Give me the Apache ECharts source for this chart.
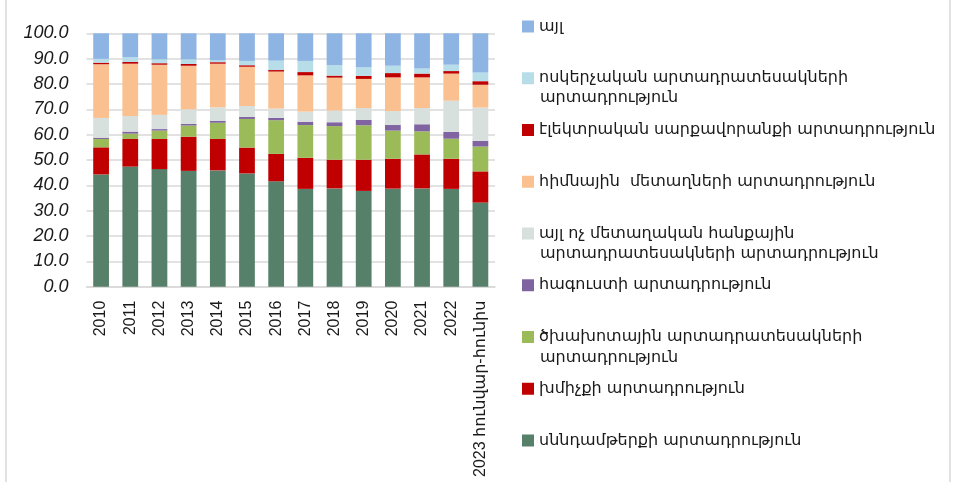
<!DOCTYPE html>
<html>
<head>
<meta charset="utf-8">
<script src="https://cdn.jsdelivr.net/npm/echarts@6/dist/echarts.min.js"></script>
<style>
  html, body { margin: 0; padding: 0; background: #fff; }
  #chart { width: 953px; height: 482px; }
</style>
</head>
<body>
<div id="chart"></div>
<script>
const years = ['2010','2011','2012','2013','2014','2015','2016','2017','2018','2019','2020','2021','2022','2023 հունվար-հունիս']
const yTicks = [0, 10, 20, 30, 40, 50, 60, 70, 80, 90, 100]

// bottom to top of each stack
const food      = [44.3, 47.4, 46.4, 45.7, 45.9, 44.7, 41.6, 38.6, 38.8, 37.8, 38.7, 38.8, 38.6, 33.2]
const drinks    = [10.7, 10.9, 11.9, 13.5, 12.4, 10.2, 10.8, 12.3, 11.3, 12.3, 11.8, 13.4, 11.9, 12.3]
const tobacco   = [3.3, 2.1, 3.3, 4.4, 6.4, 11.3, 13.3, 12.9, 13.3, 13.6, 11.1, 9.1, 7.9, 9.8]
const clothing  = [0.5, 0.8, 0.6, 0.6, 0.7, 0.8, 0.9, 1.3, 1.5, 2.1, 2.2, 2.8, 2.7, 2.3]
const nonMetal  = [7.8, 6.2, 5.6, 5.8, 5.4, 4.3, 3.7, 4.0, 4.6, 4.7, 5.5, 6.4, 12.3, 13.1]
const metals    = [21.2, 20.6, 19.8, 17.2, 17.2, 15.5, 14.6, 14.3, 13.0, 11.5, 13.3, 12.1, 10.7, 9.0]
const electric  = [0.6, 0.7, 0.6, 0.7, 0.6, 0.6, 0.6, 1.3, 0.8, 1.2, 1.7, 1.5, 1.0, 1.4]
const jewelry   = [1.5, 1.8, 1.5, 1.8, 0.7, 1.7, 3.7, 4.4, 4.2, 3.4, 2.9, 2.0, 2.5, 3.4]
const other     = [10.1, 9.5, 10.3, 10.3, 10.7, 10.9, 10.8, 10.9, 12.5, 13.4, 12.8, 13.9, 12.4, 15.5]

const seriesDefs = [
  { name: 'սննդամթերքի արտադրություն', data: food, color: '#57806A' },
  { name: 'խմիչքի արտադրություն', data: drinks, color: '#C00000' },
  { name: 'ծխախոտային արտադրատեսակների արտադրություն', data: tobacco, color: '#9BBB59' },
  { name: 'հագուստի արտադրություն', data: clothing, color: '#8064A2' },
  { name: 'այլ ոչ մետաղական հանքային արտադրատեսակների արտադրություն', data: nonMetal, color: '#D7E0DC' },
  { name: 'հիմնային  մետաղների արտադրություն', data: metals, color: '#FAC090' },
  { name: 'էլեկտրական սարքավորանքի արտադրություն', data: electric, color: '#C00000' },
  { name: 'ոսկերչական արտադրատեսակների արտադրություն', data: jewelry, color: '#B7DEE8' },
  { name: 'այլ', data: other, color: '#8EB4E3' }
]

// legend first lines and wrapped second lines
const firstLine = {
  'ծխախոտային արտադրատեսակների արտադրություն': 'ծխախոտային արտադրատեսակների',
  'այլ ոչ մետաղական հանքային արտադրատեսակների արտադրություն': 'այլ ոչ մետաղական հանքային',
  'ոսկերչական արտադրատեսակների արտադրություն': 'ոսկերչական արտադրատեսակների'
}
const secondLines = [
  { text: 'արտադրություն', y: 98 },
  { text: 'արտադրատեսակների արտադրություն', y: 254 },
  { text: 'արտադրություն', y: 358 }
]

const legendFont = '"DejaVu Sans", sans-serif'

const chart = echarts.init(document.getElementById('chart'))

const option = {
  backgroundColor: '#fff',
  animation: false,
  grid: { left: 86.5, right: 458, top: 33.3, bottom: 195.3, outerBoundsMode: 'none' },
  legend: {
    orient: 'vertical',
    left: 522,
    top: 16.5,
    padding: 0,
    itemWidth: 12,
    itemHeight: 12,
    itemGap: 31.75,
    icon: 'rect',
    data: seriesDefs.map(s => s.name).reverse(),
    formatter: name => firstLine[name] || name,
    textStyle: { fontFamily: legendFont, fontSize: 16, color: '#1a1a1a', lineHeight: 20 }
  },
  xAxis: {
    type: 'category',
    data: years,
    axisLine: { lineStyle: { color: '#D9D9D9', width: 1.5 } },
    axisTick: { show: false },
    axisLabel: {
      rotate: 90,
      interval: 0,
      margin: 14,
      fontFamily: '"Liberation Sans", "DejaVu Sans", sans-serif',
      fontSize: 16,
      color: '#1a1a1a'
    }
  },
  yAxis: {
    type: 'value',
    min: yTicks[0],
    max: yTicks[yTicks.length - 1],
    interval: 10,
    axisLine: { show: false },
    axisTick: { show: false },
    splitLine: { lineStyle: { color: '#D9D9D9', width: 1.5 } },
    axisLabel: {
      formatter: v => v.toFixed(1),
      fontFamily: '"Liberation Sans", sans-serif',
      fontStyle: 'italic',
      fontSize: 18,
      color: '#1a1a1a',
      margin: 18
    }
  },
  series: seriesDefs.map(s => ({
    name: s.name,
    type: 'bar',
    stack: 'total',
    barWidth: '54%',
    data: s.data,
    itemStyle: { color: s.color }
  })),
  graphic: [
    { type: 'line', shape: { x1: 6, y1: 0, x2: 6, y2: 482 }, style: { stroke: '#D9D9D9', lineWidth: 1.5 } },
    { type: 'line', shape: { x1: 950, y1: 0, x2: 950, y2: 482 }, style: { stroke: '#D9D9D9', lineWidth: 1.5 } }
  ].concat(secondLines.map(l => ({
    type: 'text',
    x: 540,
    y: l.y,
    style: { text: l.text, font: '16px ' + legendFont, fill: '#1a1a1a', verticalAlign: 'middle' }
  })))
}

chart.setOption(option)
</script>
</body>
</html>
